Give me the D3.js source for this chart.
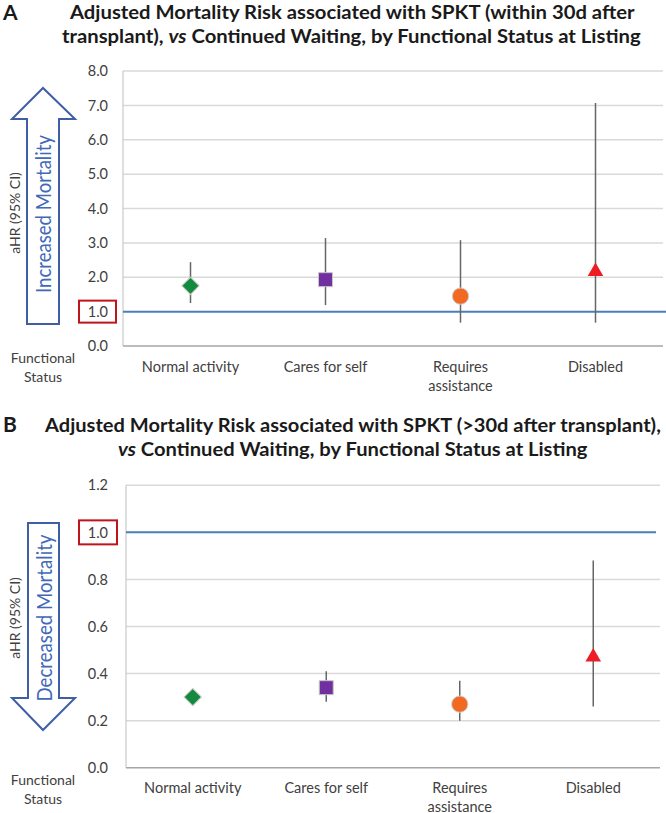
<!DOCTYPE html>
<html><head><meta charset="utf-8">
<script src="https://cdn.jsdelivr.net/npm/d3@7"></script>
<style>body{margin:0;background:#fff}svg{display:block}</style>
</head><body><svg id="c" width="666" height="813"></svg>
<script>
// ---- data ----
const categories = ["Normal activity", "Cares for self", "Requires assistance", "Disabled"];
const categoryLines = [["Normal activity"], ["Cares for self"], ["Requires", "assistance"], ["Disabled"]];
const hrA = [1.75, 1.93, 1.45, 2.17];
const loA = [1.25, 1.19, 0.68, 0.68];
const hiA = [2.44, 3.14, 3.08, 7.07];
const hrB = [0.30, 0.34, 0.27, 0.47];
const loB = [0.29, 0.28, 0.20, 0.26];
const hiB = [0.31, 0.41, 0.37, 0.88];
const ticksA = [0, 1, 2, 3, 4, 5, 6, 7, 8];
const ticksB = [0, 0.2, 0.4, 0.6, 0.8, 1.0, 1.2];
const refValue = 1.0;
const markerColors = ["#138A3E", "#7030A0", "#F26A21", "#EE1C25"];

const FONT = "Lato, 'Open Sans', sans-serif";
const svg = d3.select("#c");

function fitText(parent, x, y, parts, width, size, weight, fill) {
  const t = parent.append("text").attr("font-family", FONT).attr("font-weight", weight)
    .attr("font-size", size).attr("fill", fill);
  parts.forEach(p => t.append("tspan").attr("font-style", p.i ? "italic" : null).text(p.t));
  const w = t.node().getComputedTextLength();
  t.attr("transform", `translate(${x},${y}) scale(${width / w},1)`);
  return t;
}

function drawPanel(p) {
  const g = svg.append("g");
  g.append("text").attr("x", p.letterX).attr("y", p.letterY).attr("font-family", FONT)
    .attr("font-weight", 700).attr("font-size", 21).attr("fill", "#1a1a1a").text(p.letter);
  p.title.forEach((line, i) => fitText(g, line.x, p.titleY[i], line.parts, line.w, 19, 700, "#1a1a1a"));

  const x = d3.scaleBand().domain(categories).range(p.xRange);
  const y = d3.scaleLinear().domain([0, p.ticks[p.ticks.length - 1]]).range(p.yRange);

  g.append("g").selectAll("line").data(p.ticks.filter(t => t > 0 && t !== refValue)).join("line")
    .attr("x1", p.xRange[0]).attr("x2", p.xRange[1])
    .attr("y1", d => y(d)).attr("y2", d => y(d))
    .attr("stroke", "#d9d9d9").attr("stroke-width", 1.5);
  g.append("line").attr("x1", p.xRange[0]).attr("x2", p.xRange[0])
    .attr("y1", y(p.ticks[p.ticks.length - 1])).attr("y2", y(0))
    .attr("stroke", "#bfbfbf").attr("stroke-width", 1);
  g.append("line").attr("x1", p.xRange[0]).attr("x2", p.xRange[1])
    .attr("y1", y(0)).attr("y2", y(0)).attr("stroke", "#a6a6a6").attr("stroke-width", 1.5);
  g.append("line").attr("x1", p.xRange[0]).attr("x2", p.refEnd)
    .attr("y1", y(refValue)).attr("y2", y(refValue)).attr("stroke", "#4A7EBB").attr("stroke-width", 2);

  const yAxis = d3.axisLeft(y).tickValues(p.ticks).tickFormat(d3.format(".1f")).tickSize(0).tickPadding(0);
  const ax = g.append("g").attr("transform", `translate(${p.tickX},0)`).call(yAxis);
  ax.select(".domain").remove();
  ax.selectAll("text").attr("font-family", FONT).attr("font-size", 14.5).attr("fill", "#404040");

  g.append("rect").attr("x", p.box.x).attr("y", y(refValue) - p.box.h / 2).attr("width", p.box.w).attr("height", p.box.h)
    .attr("fill", "none").attr("stroke", "#C0141B").attr("stroke-width", 2);

  const xl = g.append("g");
  categories.forEach((c, i) => {
    const cx = x(c) + x.bandwidth() / 2;
    const t = xl.append("text").attr("x", cx).attr("y", p.xLabelY)
      .attr("text-anchor", "middle").attr("font-family", FONT).attr("font-size", 14.5).attr("fill", "#404040");
    categoryLines[i].forEach((l, k) => t.append("tspan").attr("x", cx).attr("dy", k ? 19 : 0).text(l));
  });
  const fs = g.append("text").attr("x", 43).attr("y", p.fsY).attr("text-anchor", "middle")
    .attr("font-family", FONT).attr("font-size", 14).attr("fill", "#404040");
  fs.append("tspan").attr("x", 43).text("Functional");
  fs.append("tspan").attr("x", 43).attr("dy", 19).text("Status");

  g.append("text").attr("transform", `translate(${p.ahr.x},${p.ahr.y}) rotate(-90)`)
    .attr("text-anchor", "middle").attr("dy", "0.35em").attr("font-family", FONT).attr("font-size", 14)
    .attr("fill", "#404040").text("aHR (95% CI)");

  const a = p.arrow;
  const pts = [[a.sl, a.end], [a.sl, a.base], [a.hl, a.base], [a.tipX, a.tip], [a.hr, a.base], [a.sr, a.base], [a.sr, a.end]];
  g.append("path").attr("d", d3.line()(pts) + "Z").attr("fill", "#fff").attr("stroke", "#3F5EA6").attr("stroke-width", 2);
  const at = g.append("text").attr("font-family", FONT).attr("font-size", 21).attr("fill", "#4169B8")
    .attr("text-anchor", "middle").attr("dy", "0.35em").text(a.text);
  const aw = at.node().getComputedTextLength();
  at.attr("transform", `translate(${a.tx},${a.ty}) rotate(-90) scale(${a.tw / aw},1)`);

  g.append("g").selectAll("line").data(categories).join("line")
    .attr("x1", d => x(d) + x.bandwidth() / 2).attr("x2", d => x(d) + x.bandwidth() / 2)
    .attr("y1", (d, i) => y(p.lo[i])).attr("y2", (d, i) => y(p.hi[i]))
    .attr("stroke", "#666666").attr("stroke-width", 1.5);

  const shapes = [
    { type: d3.symbolSquare, size: 150, rot: 45, stroke: "#c8c8c8" },
    { type: d3.symbolSquare, size: 196, rot: 0, stroke: "#c8c8c8" },
    { type: d3.symbolCircle, size: 210, rot: 0, stroke: "#d0d0d0" },
    { type: d3.symbolTriangle, size: 105, rot: 0, stroke: "none" }
  ];
  g.append("g").selectAll("path").data(categories).join("path")
    .attr("d", (d, i) => d3.symbol().type(shapes[i].type).size(shapes[i].size)())
    .attr("transform", (d, i) => `translate(${x(d) + x.bandwidth() / 2},${y(p.hr[i])}) rotate(${shapes[i].rot})`)
    .attr("fill", (d, i) => markerColors[i])
    .attr("stroke", (d, i) => shapes[i].stroke).attr("stroke-width", 1);
}

drawPanel({
  letter: "A", letterX: 3, letterY: 20,
  titleY: [19, 43],
  title: [
    { x: 70, w: 565, parts: [{ t: "Adjusted Mortality Risk associated with SPKT (within 30d after" }] },
    { x: 62, w: 579, parts: [{ t: "transplant), " }, { t: "vs", i: true }, { t: " Continued Waiting, by Functional Status at Listing" }] }
  ],
  hr: hrA, lo: loA, hi: hiA, ticks: ticksA,
  xRange: [123, 663], yRange: [346, 71], refEnd: 666,
  tickX: 108, box: { x: 79, w: 37, h: 22 },
  xLabelY: 372, fsY: 363,
  ahr: { x: 15, y: 213 },
  arrow: { sl: 27, sr: 59, end: 324, base: 119, hl: 12, hr: 75, tip: 88, tipX: 43, text: "Increased Mortality", tx: 44, ty: 214, tw: 158 }
});

drawPanel({
  letter: "B", letterX: 3, letterY: 432,
  titleY: [432, 456],
  title: [
    { x: 45, w: 616, parts: [{ t: "Adjusted Mortality Risk associated with SPKT (>30d after transplant)," }] },
    { x: 118, w: 470, parts: [{ t: "vs", i: true }, { t: " Continued Waiting, by Functional Status at Listing" }] }
  ],
  hr: hrB, lo: loB, hi: hiB, ticks: ticksB,
  xRange: [126, 660], yRange: [767.7, 485.3], refEnd: 656,
  tickX: 108, box: { x: 79, w: 38, h: 24 },
  xLabelY: 793, fsY: 785,
  ahr: { x: 15, y: 618 },
  arrow: { sl: 28, sr: 59, end: 523, base: 698, hl: 12, hr: 75, tip: 730, tipX: 43, text: "Decreased Mortality", tx: 45, ty: 618, tw: 167 }
});
</script>
</body></html>
